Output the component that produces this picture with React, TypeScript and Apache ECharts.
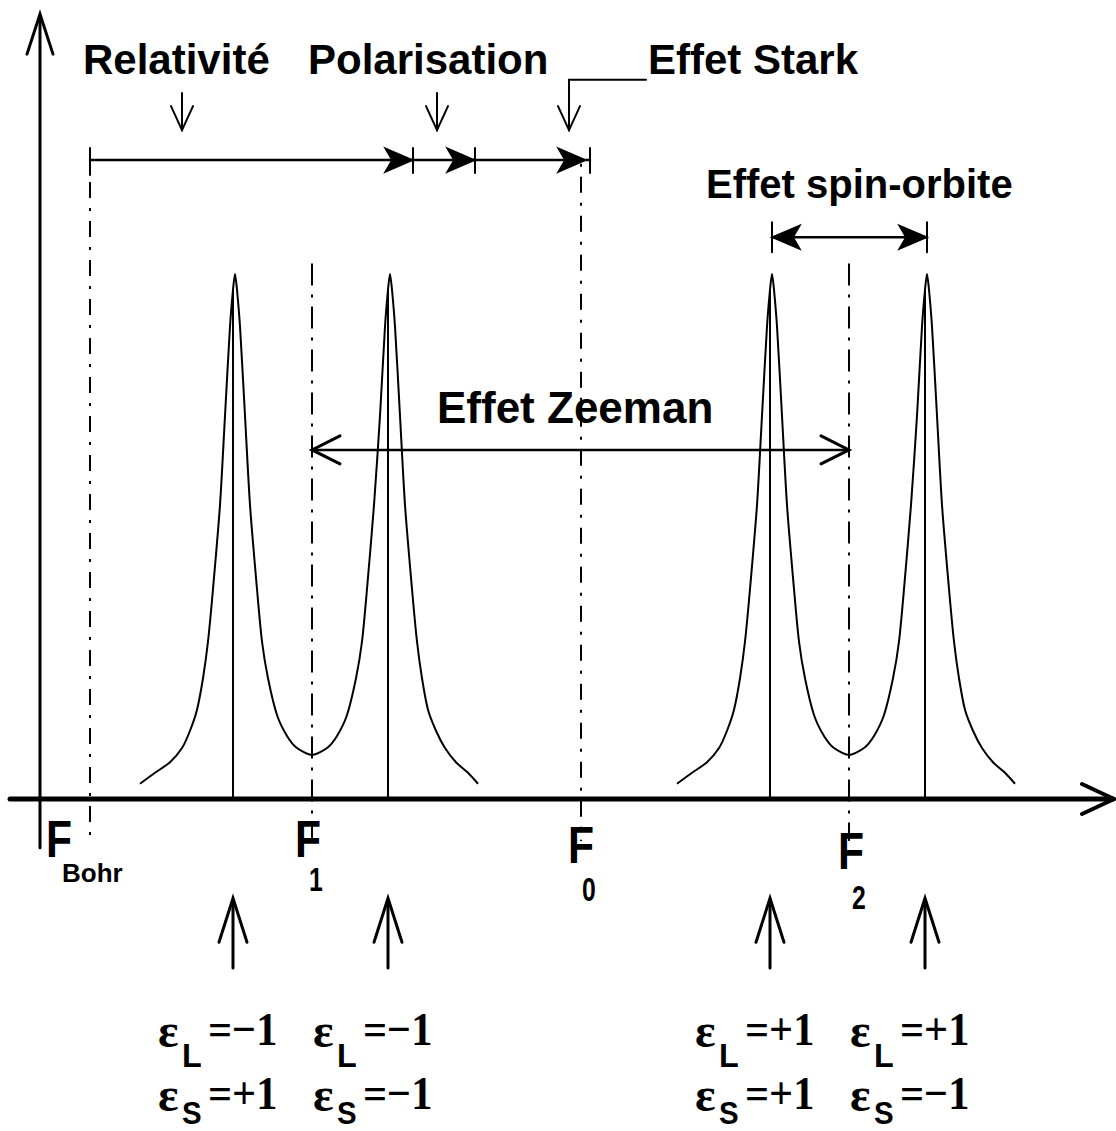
import React, { useEffect, useRef } from "react";
import * as echarts from "echarts";

// ---------- data (frequency in arbitrary units, intensity normalised to the peak) ----------
const markerSubs = ["Bohr", "1", "0", "2"];
const markerFreqs = [5.0, 27.2, 54.1, 80.9];
const markerTops = [1.2, 1.02, 1.21, 1.02];
const markerBottom = -0.08;

const peakFreqs = [19.5, 35.0, 73.2, 88.7];
const stickFreqs = [19.3, 34.8, 73.0, 88.5];
const stickHeight = 0.97;

const leftPairCurve = [
  [10.0, 0.029], [11.5, 0.05], [13.0, 0.07], [14.2, 0.097], [15.0, 0.13], [15.7, 0.17],
  [16.3, 0.23], [16.8, 0.3], [17.3, 0.4], [18.0, 0.56], [18.5, 0.73], [19.0, 0.9],
  [19.3, 0.97], [19.5, 1.0], [19.7, 0.97], [20.0, 0.9], [20.5, 0.73], [21.0, 0.56],
  [21.7, 0.4], [22.2, 0.3], [22.8, 0.23], [23.7, 0.16], [24.7, 0.12], [25.7, 0.097],
  [27.2, 0.084], [28.7, 0.097], [29.7, 0.12], [30.7, 0.16], [31.6, 0.23], [32.2, 0.3],
  [32.7, 0.4], [33.4, 0.56], [34.0, 0.73], [34.5, 0.9], [34.8, 0.97], [35.0, 1.0],
  [35.2, 0.97], [35.5, 0.9], [36.0, 0.73], [36.5, 0.56], [37.2, 0.4], [37.7, 0.3],
  [38.2, 0.23], [38.8, 0.17], [39.6, 0.13], [40.5, 0.097], [41.6, 0.07], [42.8, 0.05], [43.8, 0.029],
];
const rightPairCurve = [
  [63.7, 0.029], [65.2, 0.05], [66.7, 0.07], [67.9, 0.097], [68.7, 0.13], [69.4, 0.17],
  [70.0, 0.23], [70.5, 0.3], [71.0, 0.4], [71.7, 0.56], [72.2, 0.73], [72.7, 0.9],
  [73.0, 0.97], [73.2, 1.0], [73.4, 0.97], [73.7, 0.9], [74.2, 0.73], [74.7, 0.56],
  [75.4, 0.4], [75.9, 0.3], [76.5, 0.23], [77.4, 0.16], [78.4, 0.12], [79.4, 0.097],
  [80.9, 0.084], [82.4, 0.097], [83.4, 0.12], [84.4, 0.16], [85.3, 0.23], [85.9, 0.3],
  [86.4, 0.4], [87.1, 0.56], [87.7, 0.73], [88.2, 0.9], [88.5, 0.97], [88.7, 1.0],
  [88.9, 0.97], [89.2, 0.9], [89.7, 0.73], [90.2, 0.56], [90.9, 0.4], [91.4, 0.3],
  [91.9, 0.23], [92.5, 0.17], [93.3, 0.13], [94.2, 0.097], [95.3, 0.07], [96.5, 0.05], [97.5, 0.029],
];

// energy-shift scale at the top: Relativité, Polarisation, Effet Stark
const shiftStart = 5.0;
const shiftStops = [37.3, 43.5, 55.0];
const shiftLabels = ["Relativité", "Polarisation", "Effet Stark"];
const shiftPointers = [14.2, 39.7, 52.9];

const epsL = ["−1", "−1", "+1", "+1"];
const epsS = ["+1", "−1", "+1", "−1"];

// ---------- layout (levels in chart units) ----------
const LV = {
  shift: 1.217,
  pointerTop: 1.345,
  starkTop: 1.37,
  pointerTip: 1.274,
  spin: 1.07,
  zeeman: 0.665,
  upBottom: -0.322,
  upTip: -0.189,
  yAxisTop: 1.495,
  yAxisBottom: -0.093,
};
const SANS = '"Liberation Sans", Arial, Helvetica, sans-serif';
const SERIF = '"Liberation Serif", "Times New Roman", serif';

export default function App() {
  const ref = useRef<HTMLDivElement>(null);
  useEffect(() => {
    const chart = echarts.init(ref.current!, null, { renderer: "svg" });
    const black = "#000";
    const series: any[] = [];
    [leftPairCurve, rightPairCurve].forEach((d) =>
      series.push({
        type: "line",
        data: d,
        smooth: 0.25,
        showSymbol: false,
        silent: true,
        lineStyle: { color: black, width: 2, join: "round" },
      })
    );
    stickFreqs.forEach((f) =>
      series.push({
        type: "line",
        data: [[f, 0], [f, stickHeight]],
        showSymbol: false,
        silent: true,
        lineStyle: { color: black, width: 2 },
      })
    );
    markerFreqs.forEach((f, i) =>
      series.push({
        type: "line",
        data: [[f, markerTops[i]], [f, markerBottom]],
        showSymbol: false,
        silent: true,
        lineStyle: { color: black, width: 2, type: i === 0 || i === 2 ? [3, 10, 16, 10] : [22, 9, 3, 9] },
      })
    );

    chart.setOption({
      animation: false,
      backgroundColor: "#fff",
      grid: { left: 10, right: 2, top: 11.5, bottom: 279.5 },
      xAxis: { type: "value", min: -3, max: 107.4, show: false },
      yAxis: { type: "value", min: -0.1, max: 1.5, show: false },
      series,
    });

    const P = (x: number, y: number) => chart.convertToPixel({ gridIndex: 0 }, [x, y]) as number[];
    const X = (x: number) => P(x, 0)[0];
    const Y = (y: number) => P(0, y)[1];
    const g: any[] = [];
    const seg = (x1: number, y1: number, x2: number, y2: number, w = 2) =>
      g.push({ type: "line", shape: { x1, y1, x2, y2 }, style: { stroke: black, lineWidth: w, lineCap: "round" } });
    const poly = (pts: number[][], w = 2) =>
      g.push({ type: "polyline", shape: { points: pts }, style: { stroke: black, lineWidth: w, fill: null, lineJoin: "miter", lineCap: "round" } });
    const chevron = (tx: number, ty: number, dir: 1 | -1, len = 28, half = 12, notch = 7) =>
      g.push({
        type: "polygon",
        shape: { points: [[tx, ty], [tx - dir * len, ty - half], [tx - dir * (len - notch), ty], [tx - dir * len, ty + half]] },
        style: { fill: black, stroke: black, lineWidth: 1.5 },
      });
    const txt = (text: string, x: number, y: number, size: number, family: string, sx = 1) =>
      g.push({
        type: "text",
        x,
        y,
        scaleX: sx,
        silent: true,
        style: {
          text,
          fontSize: size,
          fontFamily: family,
          fontWeight: "bold",
          fill: black,
          align: "left",
          verticalAlign: "middle",
          textAlign: "left",
          textVerticalAlign: "middle",
        },
      });

    // axes
    const x0 = X(0), y0 = Y(0);
    seg(x0, Y(LV.yAxisBottom), x0, Y(LV.yAxisTop) + 2, 3);
    poly([[x0 - 13, Y(LV.yAxisTop) + 40], [x0, Y(LV.yAxisTop)], [x0 + 13, Y(LV.yAxisTop) + 40]], 3);
    seg(X(-3), y0, X(107.3), y0, 5);
    poly([[X(104.2), y0 - 15], [X(107.4), y0], [X(104.2), y0 + 15]], 4);

    // top shift scale
    const sy = Y(LV.shift);
    seg(X(shiftStart), sy, X(shiftStops[2]), sy, 2.5);
    seg(X(shiftStart), sy - 12, X(shiftStart), sy + 15, 2);
    shiftStops.forEach((s, i) => {
      seg(X(s), sy - 12, X(s), sy + 13, 2);
      chevron(X(s) - (i === 2 ? 4 : 0), sy, 1);
    });
    shiftPointers.forEach((p, i) => {
      const px = X(p);
      const top = i === 2 ? Y(LV.starkTop) : Y(LV.pointerTop);
      seg(px, top, px, Y(LV.pointerTip), 2);
      poly([[px - 11, Y(LV.pointerTip) - 24], [px, Y(LV.pointerTip)], [px + 11, Y(LV.pointerTip) - 24]], 2);
      if (i === 2) seg(px, top, px + 77, top, 2);
    });
    txt(shiftLabels[0], 83, 59, 42, SANS);
    txt(shiftLabels[1], 308, 59, 42, SANS);
    txt(shiftLabels[2], 648, 59, 42, SANS);

    // spin-orbit arrow
    const spy = Y(LV.spin);
    const sa = X(peakFreqs[2]), sb = X(peakFreqs[3]);
    seg(sa, spy, sb, spy, 2.5);
    seg(sa, spy - 15, sa, spy + 15, 2);
    seg(sb, spy - 15, sb, spy + 15, 2);
    chevron(sa, spy, -1);
    chevron(sb, spy, 1);
    txt("Effet spin-orbite", 706, 184, 40, SANS);

    // Zeeman arrow
    const zy = Y(LV.zeeman);
    const za = X(markerFreqs[1]), zb = X(markerFreqs[3]);
    seg(za, zy, zb, zy, 2.5);
    poly([[za + 28, zy - 14], [za, zy], [za + 28, zy + 14]], 3);
    poly([[zb - 28, zy - 14], [zb, zy], [zb - 28, zy + 14]], 3);
    txt("Effet Zeeman", 437, 407, 44, SANS);

    // frequency labels F
    const fOff = [
      [-44, 40, 16, 34],
      [-17, 40, -3, 41],
      [-13, 46, 4, 45],
      [-11, 52, 4, 47],
    ];
    markerFreqs.forEach((f, i) => {
      const mx = X(f);
      txt("F", mx + fOff[i][0], y0 + fOff[i][1], 52, SANS, 0.82);
      if (i === 0) txt(markerSubs[i], mx + fOff[i][2] + fOff[i][0], y0 + fOff[i][1] + fOff[i][3], 26, SANS);
      else txt(markerSubs[i], mx + fOff[i][0] + 14, y0 + fOff[i][1] + fOff[i][3], 33, SANS, 0.75);
    });

    // polarisation arrows and ε labels
    stickFreqs.forEach((f, i) => {
      const ax = X(f);
      const tip = Y(LV.upTip);
      seg(ax, Y(LV.upBottom), ax, tip + 2, 3);
      poly([[ax - 14, tip + 44], [ax, tip], [ax + 14, tip + 44]], 3);
      const ex = ax - 75;
      txt("ε", ex, 1030.5, 48, SERIF);
      txt("L", ex + 24, 1055, 34, SANS, 0.95);
      txt("=" + epsL[i], ex + 50, 1029, 47, SERIF, 0.9);
      txt("ε", ex, 1094.5, 48, SERIF);
      txt("S", ex + 24, 1113, 31, SANS, 0.95);
      txt("=" + epsS[i], ex + 50, 1093, 47, SERIF, 0.9);
    });

    chart.setOption({ graphic: g });
    return () => chart.dispose();
  }, []);
  return (
    <div
      ref={ref}
      style={{ position: "absolute", left: 0, top: 0, width: 1116, height: 1131, background: "#fff" }}
    />
  );
}
